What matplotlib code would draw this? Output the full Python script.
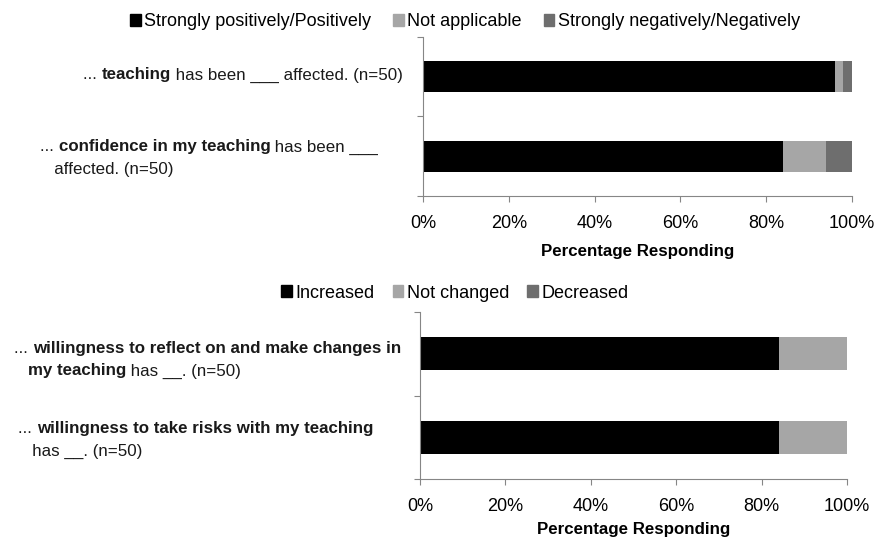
import matplotlib
matplotlib.use("Agg")
import matplotlib.pyplot as plt
from matplotlib.patches import Patch
from matplotlib.offsetbox import TextArea, HPacker, VPacker, AnnotationBbox
from matplotlib.ticker import PercentFormatter

plt.rcParams["font.family"] = ["Liberation Sans Narrow", "Liberation Sans", "DejaVu Sans"]

# --- data ---
top_series = ["Strongly positively/Positively", "Not applicable", "Strongly negatively/Negatively"]
top_values = [[96, 2, 2], [84, 10, 6]]
bottom_series = ["Increased", "Not changed", "Decreased"]
bottom_values = [[84, 16, 0], [84, 16, 0]]
xticks = [0, 20, 40, 60, 80, 100]

colors = ["#000000", "#A6A6A6", "#6E6E6E"]
FS = 13      # legend / tick text
LFS = 12.2   # category labels


def seg(text, bold=False):
    return TextArea(text, textprops=dict(fontsize=LFS, fontweight="bold" if bold else "normal", color="#1a1a1a"))


def line(parts):
    return HPacker(children=[seg(t, b) for t, b in parts], pad=0, sep=0, align="baseline")


def place(fig, box, x, y, align):
    ab = AnnotationBbox(box, (x, y), xycoords="figure pixels", box_alignment=align,
                        frameon=False, pad=0)
    fig.add_artist(ab)


def draw_bars(ax, values, labels, labelpad):
    ypos = [0.5, 1.5]
    for i, row in enumerate(values):
        left = 0
        for j, v in enumerate(row):
            ax.barh(ypos[i], v, left=left, height=0.39, color=colors[j],
                    edgecolor="none", label=labels[j] if i == 0 else None)
            left += v
    ax.set_ylim(2, 0)
    ax.set_xlim(0, 100)
    ax.set_yticks([0, 1, 2])
    ax.set_yticklabels([])
    ax.set_xticks(xticks)
    ax.xaxis.set_major_formatter(PercentFormatter(decimals=0))
    for s in ["top", "right"]:
        ax.spines[s].set_visible(False)
    for s in ["left", "bottom"]:
        ax.spines[s].set_color("#868686")
    ax.tick_params(axis="both", color="#868686", length=4, direction="out", labelsize=FS)
    ax.tick_params(axis="x", pad=10)
    ax.set_xlabel("Percentage Responding", fontweight="bold", fontsize=12.2, labelpad=labelpad)


fig = plt.figure(figsize=(8.74, 5.4), dpi=100)
H = 540

ax1 = fig.add_axes([423 / 874, 1 - 196 / 540, 429 / 874, 159 / 540])
draw_bars(ax1, top_values, top_series, 8)
ax2 = fig.add_axes([420 / 874, 1 - 479 / 540, 427 / 874, 167 / 540])
draw_bars(ax2, bottom_values, bottom_series, 5)

handles1 = [Patch(color=c) for c in colors]
fig.legend(handles1, top_series, loc="center", bbox_to_anchor=(465 / 874, 1 - 22 / 540),
           ncol=3, frameon=False, handlelength=0.6, handleheight=0.6, handletextpad=0.2,
           columnspacing=1.2, fontsize=FS)
fig.legend(handles1, bottom_series, loc="center", bbox_to_anchor=(455 / 874, 1 - 293 / 540),
           ncol=3, frameon=False, handlelength=0.6, handleheight=0.6, handletextpad=0.2,
           columnspacing=1.0, fontsize=FS)

# category labels
place(fig, line([("... ", False), ("teaching", True), (" has been ___ affected. (n=50)", False)]),
      403, H - 75, (1, 0.5))
place(fig, VPacker(children=[
    line([("... ", False), ("confidence in my teaching", True), (" has been ___", False)]),
    line([("   affected. (n=50)", False)])], pad=0, sep=5, align="left"),
      40, H - 158, (0, 0.5))
place(fig, VPacker(children=[
    line([("... ", False), ("willingness to reflect on and make changes in", True)]),
    line([("   ", False), ("my teaching", True), (" has __. (n=50)", False)])], pad=0, sep=5, align="left"),
      14, H - 360, (0, 0.5))
place(fig, VPacker(children=[
    line([("... ", False), ("willingness to take risks with my teaching", True)]),
    line([("   has __. (n=50)", False)])], pad=0, sep=5, align="left"),
      18, H - 440, (0, 0.5))

fig.savefig("out.png", dpi=100)
